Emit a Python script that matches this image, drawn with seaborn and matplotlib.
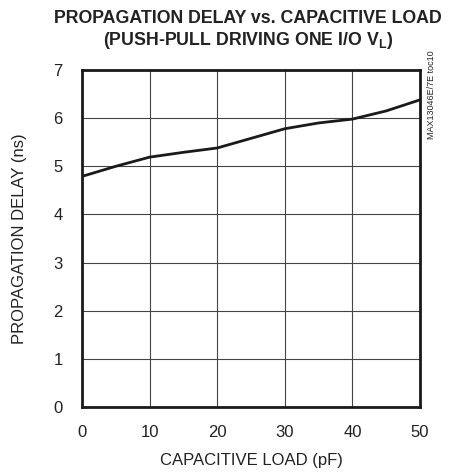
import matplotlib
matplotlib.use("Agg")
import matplotlib.pyplot as plt
import seaborn as sns
import pandas as pd

# values
load_pf = [0, 5, 10, 15, 20, 25, 30, 35, 40, 45, 50]
delay_ns = [4.79, 5.0, 5.19, 5.29, 5.38, 5.58, 5.78, 5.9, 5.98, 6.15, 6.38]

df = pd.DataFrame({"load": load_pf, "delay": delay_ns})

sns.set_theme(style="white")
plt.rcParams['font.family'] = ['Liberation Sans', 'DejaVu Sans']

fig = plt.figure(figsize=(4.51, 4.72), dpi=100)
ax = fig.add_axes([82 / 451, 1 - 407 / 472, 338 / 451, 337 / 472])

sns.lineplot(data=df, x="load", y="delay", color="#1a1a1a", linewidth=2, ax=ax)

ax.set_xlim(0, 50)
ax.set_ylim(0, 7)
ax.set_xticks(range(0, 51, 10))
ax.set_yticks(range(0, 8))
ax.grid(True, color="#444444", linewidth=0.8)
for s in ax.spines.values():
    s.set_color("#1a1a1a")
    s.set_linewidth(2)
ax.tick_params(axis="both", length=0, labelsize=12, colors="#222222")
ax.tick_params(axis="x", pad=13)
ax.tick_params(axis="y", pad=14)
ax.set_xlabel("CAPACITIVE LOAD (pF)", fontsize=12, color="#222222", labelpad=9)
ax.set_ylabel("PROPAGATION DELAY (ns)", fontsize=12, color="#222222", labelpad=19)

fig.text(0.55, 0.961, "PROPAGATION DELAY vs. CAPACITIVE LOAD", ha="center", va="center",
         fontsize=12.8, fontweight="bold", color="#222222")
fig.text(0.55, 0.914, "(PUSH-PULL DRIVING ONE I/O V$_\\mathregular{L}$)", ha="center", va="center",
         fontsize=12.8, fontweight="bold", color="#222222")
fig.text(431 / 451, 1 - 95 / 472, "MAX13046E/7E toc10", rotation=90, ha="center", va="center",
         fontsize=6.5, color="#222222")

fig.savefig("out.png", dpi=100)
